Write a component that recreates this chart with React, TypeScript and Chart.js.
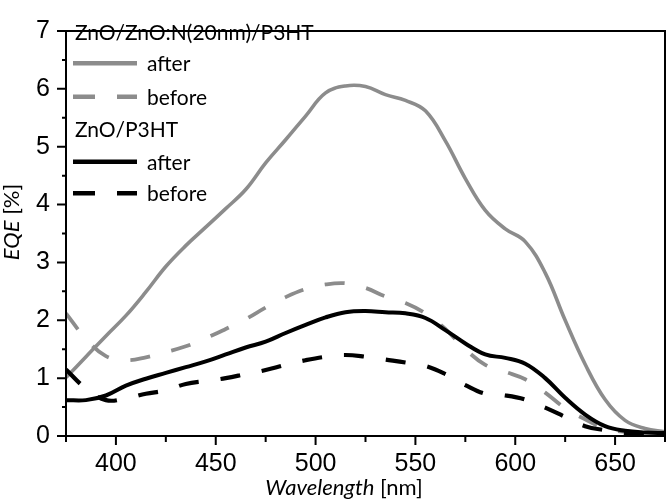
import React, { useEffect, useRef } from 'react';
import { Chart, registerables } from 'chart.js';

Chart.register(...registerables);

// Wavelength grid [nm]
const wavelengths = [375, 385, 395, 405, 415, 425, 435, 445, 455, 465, 475, 485, 495, 505, 515, 525, 535, 545, 555, 565, 575, 585, 595, 605, 615, 625, 635, 645, 655, 665, 675];

// ZnO/ZnO:N(20nm)/P3HT
const znoNAfter = [1.01, 1.37, 1.73, 2.08, 2.49, 2.93, 3.29, 3.61, 3.93, 4.26, 4.72, 5.12, 5.53, 5.93, 6.05, 6.04, 5.9, 5.8, 5.62, 5.1, 4.45, 3.9, 3.58, 3.36, 2.82, 2.0, 1.24, 0.63, 0.27, 0.13, 0.07];
const znoNBefore = [2.12, 1.68, 1.38, 1.31, 1.36, 1.45, 1.55, 1.69, 1.85, 2.02, 2.22, 2.4, 2.54, 2.62, 2.64, 2.56, 2.41, 2.3, 2.12, 1.85, 1.5, 1.23, 1.11, 0.98, 0.75, 0.48, 0.29, 0.13, 0.07, 0.04, 0.03];

// ZnO/P3HT
const znoAfter = [0.62, 0.62, 0.7, 0.87, 0.99, 1.09, 1.19, 1.29, 1.41, 1.53, 1.63, 1.78, 1.92, 2.05, 2.14, 2.16, 2.14, 2.12, 2.04, 1.83, 1.6, 1.41, 1.35, 1.25, 1.0, 0.66, 0.37, 0.17, 0.09, 0.06, 0.05];
const znoBefore = [1.15, 0.82, 0.62, 0.65, 0.73, 0.79, 0.9, 0.95, 1.0, 1.07, 1.14, 1.23, 1.31, 1.37, 1.4, 1.37, 1.32, 1.27, 1.21, 1.07, 0.88, 0.73, 0.7, 0.63, 0.49, 0.33, 0.17, 0.1, 0.05, 0.03, 0.02];

const xTickValues = [400, 450, 500, 550, 600, 650];
const xMinorTickValues = [375, 425, 475, 525, 575, 625, 675];
const yTickValues = [0, 1, 2, 3, 4, 5, 6, 7];
const yMinorTickValues = [0.5, 1.5, 2.5, 3.5, 4.5, 5.5, 6.5];

const groupTitles = ['ZnO/ZnO:N(20nm)/P3HT', 'ZnO/P3HT'];
const seriesLabels = ['after', 'before', 'after', 'before'];

const GRAY = '#8c8c8c';
const BLACK = '#000000';
const TEXT_FONT = 'Lato, "Open Sans", sans-serif';
const TICK_FONT = '"Liberation Sans", Arial, sans-serif';

const toPoints = (vals: number[]) => wavelengths.map((w, i) => ({ x: w, y: vals[i] }));

const framePlugin = {
  id: 'frameLegend',
  afterDatasetsDraw(chart: any) {
    const { ctx, chartArea: a, scales } = chart;
    const xs = scales.x;
    const ys = scales.y;
    ctx.save();
    ctx.strokeStyle = '#000';
    ctx.lineWidth = 2;
    ctx.setLineDash([]);
    ctx.strokeRect(a.left, a.top, a.right - a.left, a.bottom - a.top);

    ctx.beginPath();
    xTickValues.forEach((v) => {
      const p = xs.getPixelForValue(v);
      ctx.moveTo(p, a.bottom);
      ctx.lineTo(p, a.bottom + 9);
    });
    xMinorTickValues.forEach((v) => {
      const p = xs.getPixelForValue(v);
      ctx.moveTo(p, a.bottom);
      ctx.lineTo(p, a.bottom + 6);
    });
    yTickValues.forEach((v) => {
      const p = ys.getPixelForValue(v);
      ctx.moveTo(a.left, p);
      ctx.lineTo(a.left - 9, p);
    });
    yMinorTickValues.forEach((v) => {
      const p = ys.getPixelForValue(v);
      ctx.moveTo(a.left, p);
      ctx.lineTo(a.left - 4, p);
    });
    ctx.stroke();
    ctx.restore();
  },
  afterDraw(chart: any) {
    const { ctx } = chart;
    const ds = chart.data.datasets;
    ctx.save();
    ctx.fillStyle = '#000';
    ctx.textAlign = 'left';
    ctx.textBaseline = 'alphabetic';
    ctx.font = `21px ${TEXT_FONT}`;

    // Legend
    const lx0 = 73, lx1 = 137, tx = 147;
    const rows = [
      { type: 'title', text: groupTitles[0], y: 39.5 },
      { type: 'series', idx: 0, y: 63.3 },
      { type: 'series', idx: 1, y: 96.7 },
      { type: 'title', text: groupTitles[1], y: 137.3 },
      { type: 'series', idx: 2, y: 161.7 },
      { type: 'series', idx: 3, y: 193.3 },
    ];
    rows.forEach((r: any) => {
      if (r.type === 'title') {
        ctx.fillText(r.text, 75, r.y);
      } else {
        const d = ds[r.idx];
        ctx.save();
        ctx.strokeStyle = d.borderColor;
        ctx.lineWidth = 4.5;
        ctx.setLineDash(d.borderDash && d.borderDash.length ? [22, 22] : []);
        ctx.beginPath();
        ctx.moveTo(lx0, r.y);
        ctx.lineTo(lx1, r.y);
        ctx.stroke();
        ctx.restore();
        ctx.fillText(d.label, tx, r.y + 8);
      }
    });

    // X axis title: italic "Wavelength" + " [nm]"
    const italic = `italic 22px ${TEXT_FONT}`;
    const regular = `22px ${TEXT_FONT}`;
    ctx.font = italic;
    const w1 = ctx.measureText('Wavelength').width;
    ctx.font = regular;
    const w2 = ctx.measureText(' [nm]').width;
    const cx = 344;
    const sx = cx - (w1 + w2) / 2;
    ctx.font = italic;
    ctx.fillText('Wavelength', sx, 495);
    ctx.font = regular;
    ctx.fillText(' [nm]', sx + w1, 495);

    // Y axis title: italic "EQE" + " [%]" rotated
    ctx.save();
    ctx.translate(18.5, 222);
    ctx.rotate(-Math.PI / 2);
    ctx.font = italic;
    const e1 = ctx.measureText('EQE').width;
    ctx.font = regular;
    const e2 = ctx.measureText(' [%]').width;
    const sy = -(e1 + e2) / 2;
    ctx.font = italic;
    ctx.fillText('EQE', sy, 0);
    ctx.font = regular;
    ctx.fillText(' [%]', sy + e1, 0);
    ctx.restore();

    ctx.restore();
  },
};

export default function App() {
  const canvasRef = useRef<HTMLCanvasElement | null>(null);

  useEffect(() => {
    if (!canvasRef.current) return;
    const common = {
      pointRadius: 0,
      pointHoverRadius: 0,
      fill: false,
      tension: 0.4,
      borderCapStyle: 'butt' as const,
      borderJoinStyle: 'round' as const,
    };
    const chart = new Chart(canvasRef.current, {
      type: 'line',
      data: {
        datasets: [
          { ...common, label: seriesLabels[0], data: toPoints(znoNAfter), borderColor: GRAY, borderWidth: 3.6, borderDash: [], order: 3 },
          { ...common, label: seriesLabels[1], data: toPoints(znoNBefore), borderColor: GRAY, borderWidth: 3.8, borderDash: [20, 22], order: 4 },
          { ...common, label: seriesLabels[2], data: toPoints(znoAfter), borderColor: BLACK, borderWidth: 4, borderDash: [], order: 1 },
          { ...common, label: seriesLabels[3], data: toPoints(znoBefore), borderColor: BLACK, borderWidth: 4.2, borderDash: [20, 22], order: 2 },
        ],
      },
      options: {
        responsive: false,
        animation: false,
        layout: { padding: { left: 0, right: 2, top: 12, bottom: 0 } },
        plugins: { legend: { display: false }, tooltip: { enabled: false } },
        scales: {
          x: {
            type: 'linear',
            min: 375,
            max: 675,
            grid: { display: false, drawTicks: false },
            border: { display: false },
            afterBuildTicks: (s: any) => {
              s.ticks = xTickValues.map((v) => ({ value: v }));
            },
            afterFit: (s: any) => {
              s.height = 67;
            },
            ticks: {
              padding: 13,
              maxRotation: 0,
              autoSkip: false,
              color: '#000',
              font: { family: TICK_FONT, size: 25 },
            },
          },
          y: {
            type: 'linear',
            min: 0,
            max: 7,
            grid: { display: false, drawTicks: false },
            border: { display: false },
            afterBuildTicks: (s: any) => {
              s.ticks = yTickValues.map((v) => ({ value: v }));
            },
            afterFit: (s: any) => {
              s.width = 66;
            },
            ticks: {
              padding: 16,
              autoSkip: false,
              color: '#000',
              font: { family: TICK_FONT, size: 25 },
            },
          },
        },
      },
      plugins: [framePlugin],
    });
    return () => chart.destroy();
  }, []);

  return (
    <div style={{ position: 'absolute', left: 0, top: 0, width: 667, height: 503, background: '#fff' }}>
      <canvas ref={canvasRef} width={667} height={503} style={{ display: 'block' }} />
    </div>
  );
}
